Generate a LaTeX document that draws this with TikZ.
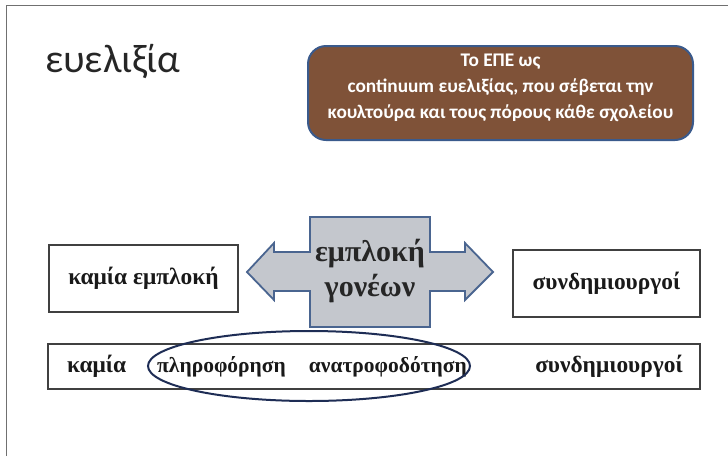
\documentclass[tikz,border=0pt]{standalone}
\usepackage{fontspec}
\setmainfont{Liberation Serif}
\newfontfamily\calib{Carlito}
\usetikzlibrary{shapes.geometric}
\definecolor{brownfill}{HTML}{7F5238}
\definecolor{bluedge}{HTML}{3A5A8C}
\definecolor{arrowfill}{HTML}{C4C7CD}
\definecolor{arrowedge}{HTML}{4A6590}
\definecolor{navy}{HTML}{1E2D55}
\definecolor{framegray}{HTML}{707070}
\tikzset{
  plainbox/.style={draw=black!75, line width=2.4pt, fill=white, inner sep=0pt},
  boxtext/.style={font=\bfseries\fontsize{23.4}{28}\selectfont, text=black!90, inner sep=0pt},
  smalltext/.style={font=\bfseries\fontsize{21.5}{26}\selectfont, text=black!90, inner sep=0pt},
}
\begin{document}
\begin{tikzpicture}[x=1pt,y=-1pt]
\useasboundingbox (0,0) rectangle (728,456);
\draw[framegray, line width=1.5pt] (6.5,456) -- (6.5,5.5) -- (728,5.5);

\node[anchor=base west, inner sep=0pt, font=\calib\fontsize{40}{46}\selectfont, text=black!85] (title) at (45,72) {ευελιξία};

\node[rounded corners=18pt, fill=brownfill, draw=bluedge, line width=2pt,
      minimum width=385, minimum height=94, inner sep=0pt] (epe) at (500.5,93) {};
\node[align=center, inner sep=0pt,
      font=\calib\bfseries\fontsize{19.3}{26}\selectfont, text=white] (epetext) at (500.5,88)
  {Το ΕΠΕ ως\\continuum ευελιξίας, που σέβεται την\\κουλτούρα και τους πόρους κάθε σχολείου};

\draw[fill=arrowfill, draw=arrowedge, line width=1.8pt, line join=miter]
  (247,272) -- (274,243) -- (274,252) -- (310,252) -- (310,217) -- (430,217) -- (430,252)
  -- (465,252) -- (465,243) -- (493,272) -- (465,300) -- (465,291) -- (430,291) -- (430,327)
  -- (310,327) -- (310,291) -- (274,291) -- (274,300) -- cycle;
\node[align=center, inner sep=0pt, font=\bfseries\fontsize{30}{35}\selectfont, text=black!85] (emplo) at (370,271)
  {εμπλοκή\\γονέων};

\node[plainbox, minimum width=189, minimum height=67] (left) at (143.5,278.5) {};
\node[boxtext] (lefttext) at (left.center) {καμία εμπλοκή};

\node[plainbox, minimum width=187, minimum height=67] (right) at (606.5,283.5) {};
\node[boxtext] (righttext) at (right.center) {συνδημιουργοί};

\node[plainbox, minimum width=652, minimum height=45] (bar) at (374,366.5) {};
\node[boxtext, anchor=west] (t1) at (67,366.5) {καμία};
\node[smalltext, anchor=west] (t2) at (157,366.5) {πληροφόρηση};
\node[smalltext, anchor=east] (t3) at (467,366.5) {ανατροφοδότηση};
\node[boxtext, anchor=east] (t4) at (683,366.5) {συνδημιουργοί};

\node[ellipse, draw=navy, line width=2pt, minimum width=322, minimum height=70, inner sep=0pt] (oval) at (309,366) {};
\end{tikzpicture}
\end{document}
